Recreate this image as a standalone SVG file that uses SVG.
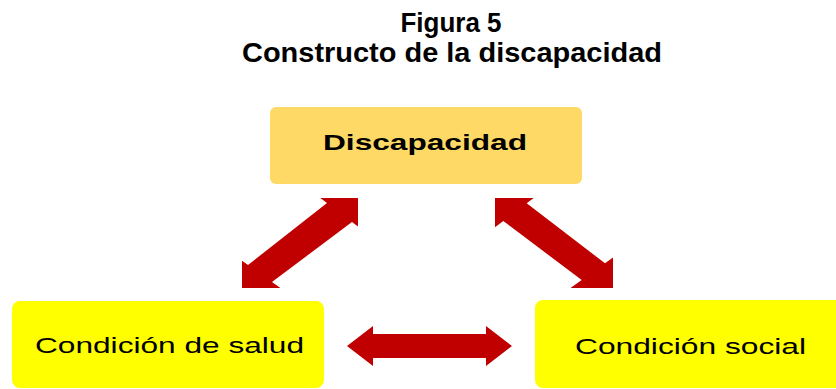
<svg xmlns="http://www.w3.org/2000/svg" width="836" height="389" viewBox="0 0 836 389">
<style>
.title{font-family:"Liberation Sans",Arial,sans-serif;font-weight:bold;font-size:27px;fill:#000;text-anchor:middle}
.lbl{font-family:"Liberation Sans",Arial,sans-serif;font-size:22px;fill:#000}
.arr{fill:#C00000}
</style>
<defs>
<clipPath id="clipL"><rect x="242" y="198" width="116" height="90"/></clipPath>
<clipPath id="clipR"><rect x="495" y="198" width="118" height="90"/></clipPath>
</defs>
<rect width="836" height="389" fill="#fff"/>
<text class="title" x="451" y="32" textLength="101" lengthAdjust="spacingAndGlyphs">Figura 5</text>
<text class="title" x="452" y="62" font-size="28" textLength="420" lengthAdjust="spacingAndGlyphs">Constructo de la discapacidad</text>
<g id="discapacidad">
<rect x="270" y="107" width="312" height="77" rx="6" fill="#FFD966"/>
<text class="lbl" x="323" y="150" font-weight="bold" textLength="204" lengthAdjust="spacingAndGlyphs">Discapacidad</text>
</g>
<g id="salud">
<rect x="12" y="301" width="312" height="87" rx="8" fill="#FFFF00"/>
<text class="lbl" x="35" y="353" textLength="269" lengthAdjust="spacingAndGlyphs">Condición de salud</text>
</g>
<g id="social">
<rect x="535" y="300" width="310" height="88" rx="8" fill="#FFFF00"/>
<text class="lbl" x="575" y="354" textLength="231" lengthAdjust="spacingAndGlyphs">Condición social</text>
</g>
<g id="connectors">
<polygon class="arr" clip-path="url(#clipL)" points="367,191 364,231 352,222 272,282 284.2,290.7 232,295 235.8,256.3 248,265 327,203 315,194"/>
<polygon class="arr" clip-path="url(#clipR)" points="487,190.6 538.7,194.3 526.7,203.3 605,263.3 617.2,254.6 621,293 569.5,288.7 581.7,280 503.3,221 491.3,230"/>
<polygon class="arr" transform="translate(429.5 346)" points="-82.5,0 -56.5,-20 -56.5,-12 56.5,-12 56.5,-20 82.5,0 56.5,20 56.5,12 -56.5,12 -56.5,20"/>
</g>
</svg>
